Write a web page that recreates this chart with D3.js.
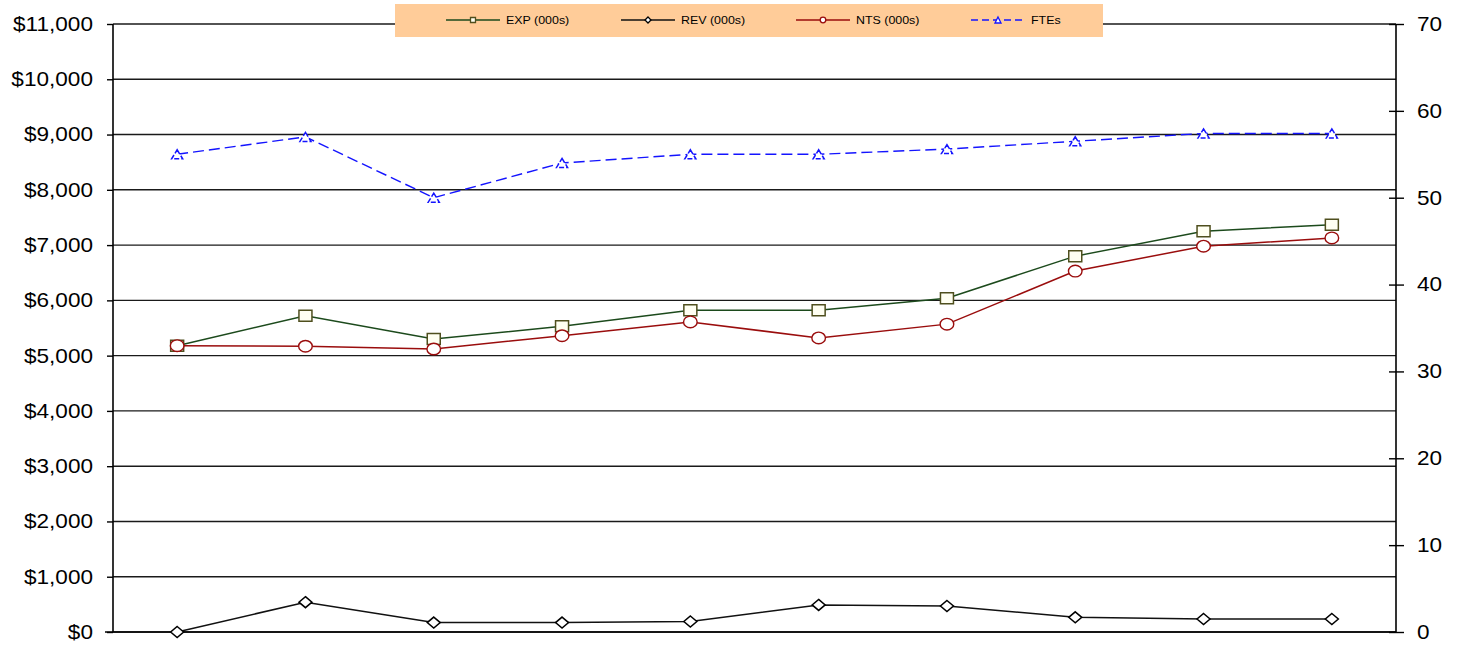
<!DOCTYPE html>
<html>
<head>
<meta charset="utf-8">
<script src="https://cdn.jsdelivr.net/npm/d3@7"></script>
<style>
  html, body { margin: 0; padding: 0; background: #fff; }
  svg { display: block; font-family: "Liberation Sans", Arial, sans-serif; }
</style>
</head>
<body>
<svg id="chart" width="1462" height="646"></svg>
<script>
// Periods along the x axis (unlabelled on the chart)
const periods = ["P1", "P2", "P3", "P4", "P5", "P6", "P7", "P8", "P9", "P10"];

// Dollar series, thousands
const expValues = [5180, 5720, 5300, 5530, 5820, 5820, 6040, 6800, 7250, 7370];
const revValues = [0, 540, 170, 170, 190, 490, 470, 265, 235, 235];
const ntsValues = [5180, 5170, 5120, 5360, 5610, 5320, 5570, 6530, 6980, 7130];

// Staff counts, right axis
const fteValues = [55, 57, 50, 54, 55, 55, 55.6, 56.5, 57.4, 57.4];

// Axis ticks
const leftTicks = [0, 1000, 2000, 3000, 4000, 5000, 6000, 7000, 8000, 9000, 10000, 11000];
const rightTicks = [0, 10, 20, 30, 40, 50, 60, 70];

const legendLabels = ["EXP (000s)", "REV (000s)", "NTS (000s)", "FTEs"];

const svg = d3.select("#chart");
const stretch = 1.13;   // horizontal text stretch

const plot = { left: 113, right: 1396, top: 24, bottom: 632 };

const x = d3.scalePoint().domain(periods).range([plot.left, plot.right]).padding(0.5);
const yL = d3.scaleLinear().domain([0, 11000]).range([plot.bottom, plot.top]);
const yR = d3.scaleLinear().domain([0, 70]).range([plot.bottom, plot.top]);

// Horizontal gridlines
svg.append("g")
  .selectAll("line")
  .data(leftTicks)
  .join("line")
  .attr("x1", plot.left).attr("x2", plot.right)
  .attr("y1", d => yL(d)).attr("y2", d => yL(d))
  .attr("stroke", "#1a1a1a").attr("stroke-width", 1.4);

// Stretch tick text horizontally around its anchor point
function stretchText(sel) {
  sel.selectAll(".tick text").each(function () {
    const t = d3.select(this);
    const tx = +t.attr("x");
    t.attr("x", 0).attr("transform", `translate(${tx},0) scale(${stretch},1)`);
  });
}

// Left axis
const gL = svg.append("g")
  .attr("transform", `translate(${plot.left},0)`)
  .call(d3.axisLeft(yL).tickValues(leftTicks).tickSize(6).tickPadding(14)
    .tickFormat(d => "$" + d3.format(",")(d)));
gL.select(".domain").attr("d", `M0,${plot.top}V${plot.bottom}`).attr("stroke", "#000").attr("stroke-width", 1.6);
gL.selectAll(".tick line").attr("stroke", "#000").attr("stroke-width", 1.4);
gL.selectAll(".tick text").attr("font-size", 20).attr("fill", "#000")
  .attr("font-family", "'Liberation Sans', Arial, sans-serif");
stretchText(gL);

// Right axis (ticks cross the axis line)
const gR = svg.append("g")
  .attr("transform", `translate(${plot.right},0)`)
  .call(d3.axisRight(yR).tickValues(rightTicks).tickSize(8).tickPadding(13));
gR.select(".domain").attr("d", `M0,${plot.top}V${plot.bottom}`).attr("stroke", "#000").attr("stroke-width", 1.6);
gR.selectAll(".tick line").attr("x1", -7).attr("stroke", "#000").attr("stroke-width", 1.4);
gR.selectAll(".tick text").attr("font-size", 20).attr("fill", "#000")
  .attr("font-family", "'Liberation Sans', Arial, sans-serif");
stretchText(gR);

// Baseline extends a little left of the axis
svg.append("line")
  .attr("x1", plot.left - 8).attr("x2", plot.right)
  .attr("y1", yL(0)).attr("y2", yL(0))
  .attr("stroke", "#000").attr("stroke-width", 1.6);

// Marker shapes
const squarePath = (w, h) => `M${-w/2},${-h/2}h${w}v${h}h${-w}Z`;
const diamondPath = (w, h) => `M0,${-h/2}L${w/2},0L0,${h/2}L${-w/2},0Z`;
const trianglePath = (w, h) => `M0,${-h/2}L${w/2},${h/2}L${-w/2},${h/2}Z`;

const series = [
  { name: legendLabels[0], values: expValues, y: yL, line: "#1c4a1c", mStroke: "#4f4f1e", fill: "#fffff2",
    shape: "path", path: squarePath(13, 11), legendPath: squarePath(5, 5), dash: null, width: 1.5 },
  { name: legendLabels[1], values: revValues, y: yL, line: "#111", mStroke: "#000", fill: "#fff",
    shape: "path", path: diamondPath(13, 11), legendPath: diamondPath(6, 6), dash: null, width: 1.5 },
  { name: legendLabels[2], values: ntsValues, y: yL, line: "#9a0d0d", mStroke: "#9a0d0d", fill: "#fff",
    shape: "ellipse", rx: 6.8, ry: 5.8, legendR: 2.8, dash: null, width: 1.5 },
  { name: legendLabels[3], values: fteValues, y: yR, line: "#1414ff", mStroke: "#1414ff", fill: "#fff",
    shape: "path", path: trianglePath(11, 9), legendPath: trianglePath(6, 6), dash: "11,5", width: 1.4 }
];

const lineGen = (ys) => d3.line().x((d, i) => x(periods[i])).y(d => ys(d));

series.forEach(s => {
  const g = svg.append("g");
  g.append("path")
    .datum(s.values)
    .attr("d", lineGen(s.y))
    .attr("fill", "none")
    .attr("stroke", s.line)
    .attr("stroke-width", s.width)
    .attr("stroke-dasharray", s.dash);
  if (s.shape === "ellipse") {
    g.selectAll("ellipse").data(s.values).join("ellipse")
      .attr("cx", (d, i) => x(periods[i])).attr("cy", d => s.y(d))
      .attr("rx", s.rx).attr("ry", s.ry)
      .attr("fill", s.fill).attr("stroke", s.mStroke).attr("stroke-width", 1.4);
  } else {
    g.selectAll(".mk").data(s.values).join("path")
      .attr("class", "mk")
      .attr("transform", (d, i) => `translate(${x(periods[i])},${s.y(d)})`)
      .attr("d", s.path)
      .attr("fill", s.fill).attr("stroke", s.mStroke).attr("stroke-width", 1.5)
      .attr("stroke-dasharray", s.dash ? "5,2" : null);
  }
});

// Legend
const legend = svg.append("g");
legend.append("rect")
  .attr("x", 395).attr("y", 4).attr("width", 708).attr("height", 33)
  .attr("fill", "#ffcc99");
const legendX = d3.scalePoint().domain(legendLabels).range([446, 971]);
series.forEach(s => {
  const lx = legendX(s.name), ly = 20;
  const item = legend.append("g");
  item.append("line")
    .attr("x1", lx).attr("x2", lx + 54).attr("y1", ly).attr("y2", ly)
    .attr("stroke", s.line).attr("stroke-width", 1.5)
    .attr("stroke-dasharray", s.dash ? "7,4" : null);
  if (s.shape === "ellipse") {
    item.append("circle").attr("cx", lx + 27).attr("cy", ly).attr("r", s.legendR)
      .attr("fill", "#fff").attr("stroke", s.mStroke).attr("stroke-width", 1.3);
  } else {
    item.append("path").attr("transform", `translate(${lx + 27},${ly})`)
      .attr("d", s.legendPath)
      .attr("fill", s.fill).attr("stroke", s.mStroke).attr("stroke-width", 1.3);
  }
  item.append("text")
    .attr("transform", `translate(${lx + 60},${ly + 4}) scale(${stretch},1)`)
    .attr("font-size", 11).attr("fill", "#000")
    .text(s.name);
});
</script>
</body>
</html>
